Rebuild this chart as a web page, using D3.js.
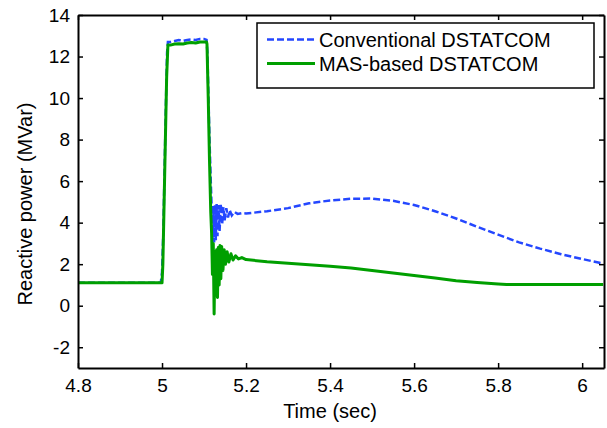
<!DOCTYPE html>
<html><head><meta charset="utf-8">
<script src="https://cdn.jsdelivr.net/npm/d3@7"></script>
<style>body{margin:0;background:#fff}svg{display:block}text{font-family:"Liberation Sans",Arial,sans-serif;fill:#000}</style>
</head><body><svg id="c" width="607" height="428"></svg>
<script>
const xTicks=[4.8,5.0,5.2,5.4,5.6,5.8,6.0];
const xTickLabels=["4.8","5","5.2","5.4","5.6","5.8","6"];
const yTicks=[-2,0,2,4,6,8,10,12,14];
const yTickLabels=["-2","0","2","4","6","8","10","12","14"];
const seriesNames=["Conventional DSTATCOM","MAS-based DSTATCOM"];
const convT=[4.8,4.997,5.0,5.003,5.006,5.009,5.012,5.014,5.02,5.03,5.04,5.05,5.06,5.07,5.08,5.09,5.1,5.106,5.108,5.110,5.113,5.116,5.118,5.120,5.122,5.124,5.126,5.128,5.130,5.132,5.134,5.137,5.140,5.143,5.146,5.149,5.153,5.157,5.161,5.166,5.172,5.18,5.19,5.2,5.25,5.3,5.35,5.4,5.45,5.5,5.55,5.6,5.65,5.7,5.75,5.8,5.85,5.9,5.95,6.0,6.05];
const convV=[1.1,1.1,1.6,3.5,6.5,9.5,12.2,12.7,12.7,12.75,12.8,12.75,12.8,12.82,12.8,12.85,12.85,12.8,12.2,10.5,8.0,6.0,4.8,3.2,4.8,3.05,4.85,3.15,4.9,3.35,4.85,3.6,4.9,3.9,4.75,4.1,4.7,4.25,4.6,4.35,4.52,4.42,4.46,4.44,4.55,4.7,4.93,5.07,5.15,5.16,5.05,4.85,4.55,4.2,3.8,3.42,3.05,2.75,2.48,2.25,2.03];
const masT=[4.8,5.0,5.002,5.005,5.008,5.011,5.014,5.02,5.03,5.04,5.05,5.06,5.07,5.08,5.09,5.1,5.106,5.107,5.110,5.113,5.116,5.118,5.120,5.122,5.124,5.126,5.128,5.130,5.132,5.134,5.136,5.138,5.140,5.142,5.145,5.148,5.151,5.155,5.159,5.164,5.169,5.175,5.182,5.19,5.2,5.25,5.3,5.35,5.4,5.45,5.5,5.55,5.6,5.65,5.7,5.75,5.8,5.82,5.9,6.05];
const masV=[1.1,1.1,2.0,5.0,8.0,11.0,12.55,12.55,12.6,12.62,12.6,12.65,12.68,12.65,12.7,12.7,12.7,12.6,10.0,7.0,4.5,3.5,1.5,3.0,-0.4,2.6,0.5,2.7,0.4,2.8,1.0,2.9,1.3,2.85,1.7,2.7,2.0,2.6,2.1,2.5,2.2,2.4,2.25,2.32,2.22,2.12,2.05,1.97,1.9,1.82,1.7,1.58,1.45,1.33,1.2,1.12,1.05,1.02,1.02,1.02];

const svg=d3.select("#c");
const L=78,R=604,T=15,B=368;
const x=d3.scaleLinear().domain([4.8,6.052]).range([L,R]);
const y=d3.scaleLinear().domain([-3,14]).range([B,T]);
const fsTick=19, fsLab=20;
svg.append("clipPath").attr("id","clp").append("rect").attr("x",L).attr("y",T).attr("width",R-L).attr("height",B-T);
const line=d3.line().x(d=>x(d[0])).y(d=>y(d[1]));
const g=svg.append("g").attr("clip-path","url(#clp)");
g.append("path").datum(convT.map((t,i)=>[t,convV[i]])).attr("d",line).attr("fill","none").attr("stroke","#2447ff").attr("stroke-width",2.5).attr("stroke-dasharray","7,3");
g.append("path").datum(masT.map((t,i)=>[t,masV[i]])).attr("d",line).attr("fill","none").attr("stroke","#009f00").attr("stroke-width",3).attr("stroke-linejoin","round");

const ax=svg.append("g");
const axB=d3.axisBottom(x).tickValues(xTicks).tickFormat((d,i)=>xTickLabels[i]).tickSizeInner(-5).tickSizeOuter(0).tickPadding(10.5);
const axT=d3.axisTop(x).tickValues(xTicks).tickFormat("").tickSizeInner(-5).tickSizeOuter(0);
const axL=d3.axisLeft(y).tickValues(yTicks).tickFormat((d,i)=>yTickLabels[i]).tickSizeInner(-5).tickSizeOuter(0).tickPadding(8);
const axR=d3.axisRight(y).tickValues(yTicks).tickFormat("").tickSizeInner(-5).tickSizeOuter(0);
ax.append("g").attr("transform",`translate(0,${B})`).call(axB);
ax.append("g").attr("transform",`translate(0,${T})`).call(axT);
ax.append("g").attr("transform",`translate(${L},0)`).call(axL);
ax.append("g").attr("transform",`translate(${R},0)`).call(axR);
ax.selectAll(".domain").attr("stroke","#000").attr("stroke-width",2);
ax.selectAll(".tick line").attr("stroke","#000").attr("stroke-width",1.5);
ax.selectAll(".tick text").attr("font-size",fsTick).attr("font-family","Liberation Sans, Arial, sans-serif").attr("fill","#000");

svg.append("text").attr("x",330).attr("y",418).attr("text-anchor","middle").attr("font-size",fsLab).text("Time (sec)");
svg.append("text").attr("transform",`translate(32,204) rotate(-90)`).attr("text-anchor","middle").attr("font-size",fsLab).text("Reactive power (MVar)");

const lg=svg.append("g");
lg.append("rect").attr("x",257).attr("y",23).attr("width",337).attr("height",65).attr("fill","#fff").attr("stroke","#000").attr("stroke-width",1.5);
const colors=["#2447ff","#009f00"];
seriesNames.forEach((n,i)=>{
  const yy=39.5+i*24;
  lg.append("line").attr("x1",267).attr("x2",315).attr("y1",yy).attr("y2",yy).attr("stroke",colors[i]).attr("stroke-width",i?3:2.5).attr("stroke-dasharray",i?null:"7,3");
  lg.append("text").attr("x",319).attr("y",yy+7).attr("font-size",fsLab).text(n);
});
</script></body></html>
